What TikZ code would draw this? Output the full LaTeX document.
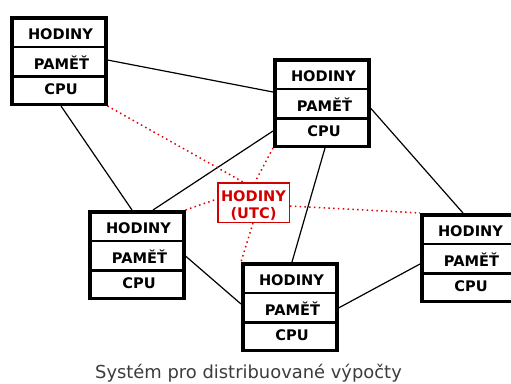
\documentclass[tikz,border=0pt]{standalone}
\usepackage{fontspec}
\setmainfont{DejaVu Sans}
\usetikzlibrary{calc}
\definecolor{utcred}{RGB}{212,0,0}
\definecolor{dotred}{RGB}{230,0,0}
\definecolor{captiongray}{RGB}{60,60,60}
\tikzset{
  compframe/.style={draw=black, fill=white, line width=3.5pt, minimum width=94pt, minimum height=86.5pt, inner sep=0pt, anchor=north west},
  divider/.style={line width=2.8pt},
  boxlabel/.style={font=\fontsize{14.6}{17}\selectfont\bfseries, anchor=base, inner sep=0pt},
  utcframe/.style={draw=utcred, line width=1.5pt, minimum width=71.5pt, minimum height=39.5pt, inner sep=0pt, anchor=north west},
  utclabel/.style={boxlabel, text=utcred},
  link/.style={line width=1.2pt},
  sync/.style={draw=dotred, line width=1.5pt, dash pattern=on 1.5pt off 3.3pt},
  caption/.style={font=\fontsize{17.9}{20}\selectfont, text=captiongray, anchor=base, inner sep=0pt}
}
\newcommand{\compbox}[3]{%
  \node[compframe] (#1) at (#2,#3) {};
  \draw[divider] ([yshift=-31pt]#1.north west) -- ([yshift=-31pt]#1.north east);
  \draw[divider] ([yshift=-60.5pt]#1.north west) -- ([yshift=-60.5pt]#1.north east);
  \node[boxlabel] (#1-h) at ($(#1.north west)+(50.5,23.3)$) {HODINY};
  \node[boxlabel] (#1-m) at ($(#1.north west)+(51.5,53.3)$) {PAMĚŤ};
  \node[boxlabel] (#1-c) at ($(#1.north west)+(51,78.2)$) {CPU};
}
\begin{document}
\begin{tikzpicture}[x=1pt,y=-1pt]
\useasboundingbox (0,0) rectangle (511,383);
% computers
\compbox{A}{10}{16}
\compbox{B}{273}{58}
\compbox{C}{88}{210}
\compbox{D}{241}{262}
\compbox{E}{420}{213}
% UTC clock
\node[utcframe] (utc) at (217,182) {};
\node[utclabel] (utc-1) at (253.5,201.7) {HODINY};
\node[utclabel] (utc-2) at (253.5,218) {(UTC)};
% solid links
\draw[link] ([yshift=-44pt]A.north east) -- ([yshift=-34pt]B.north west);
\draw[link] ([xshift=51pt]A.south west) -- ([xshift=44pt]C.north west);
\draw[link] ([yshift=-73pt]B.north west) -- ([xshift=65pt]C.north west);
\draw[link] ([xshift=52pt]B.south west) -- ([xshift=51pt]D.north west);
\draw[link] ([yshift=-50pt]B.north east) -- ([xshift=43pt]E.north west);
\draw[link] ([yshift=-46pt]C.north east) -- ([yshift=-42pt]D.north west);
\draw[link] ([yshift=-46pt]D.north east) -- ([yshift=-51pt]E.north west);
% dotted sync lines
\draw[sync] (A.south east) -- ([xshift=26pt]utc.north west);
\draw[sync] (B.south west) -- ([xshift=38pt]utc.north west);
\draw[sync] (C.north east) -- ([yshift=-17pt]utc.north west);
\draw[sync] ([yshift=-24pt]utc.north east) -- (E.north west);
\draw[sync] ([xshift=36pt]utc.south west) -- (D.north west);
% caption
\node[caption] (cap) at (248.5,378.3) {Systém pro distribuované výpočty};
\end{tikzpicture}
\end{document}
